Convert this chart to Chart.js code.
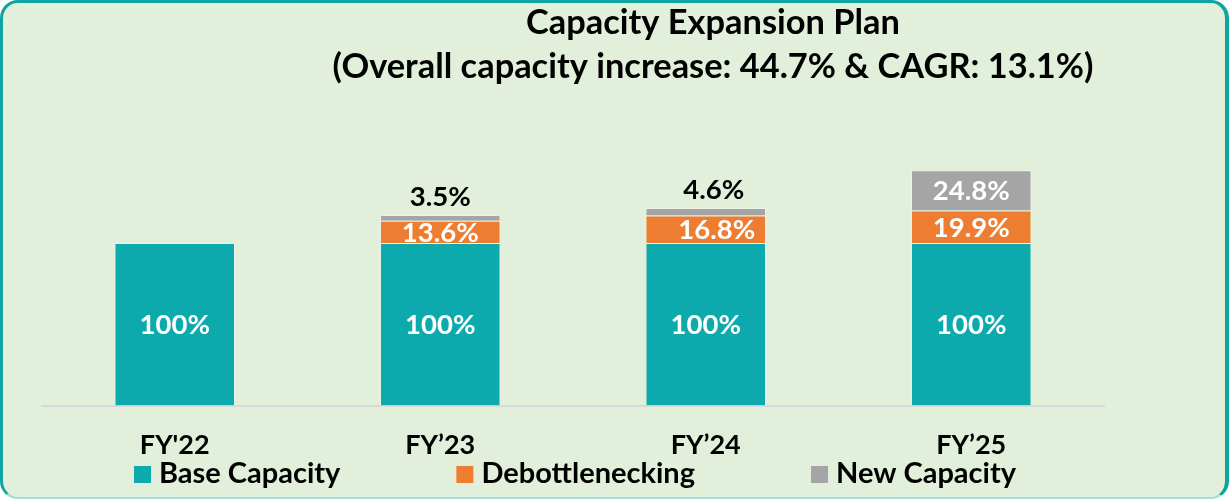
<!DOCTYPE html>
<html>
<head>
<meta charset="utf-8">
<script src="https://cdn.jsdelivr.net/npm/chart.js@4"></script>
<style>
  html, body { margin: 0; padding: 0; background: #ffffff; }
  #frame {
    position: absolute; left: 0; top: 0;
    width: 1229px; height: 499px; box-sizing: border-box;
    background: #E2EFDA;
    border-style: solid;
    border-color: #10A49E #10A49E #A3E0D2 #10A49E;
    border-width: 3px 4px 2px 3px;
    border-radius: 18px;
  }
  #chart { position: absolute; left: 0; top: 0; }
</style>
</head>
<body>
<div id="frame"></div>
<canvas id="chart" width="1229" height="499"></canvas>
<script>
// Fiscal years on the x axis
const categories = ["FY'22", "FY’23", "FY’24", "FY’25"];
// Capacity as a share of FY'22 base capacity (%)
const baseCapacity = [100, 100, 100, 100];
const debottlenecking = [null, 13.6, 16.8, 19.9];
const newCapacity = [null, 3.5, 4.6, 24.8];
const seriesNames = ["Base Capacity", "Debottlenecking", "New Capacity"];
const titleLines = ["Capacity Expansion Plan", "(Overall capacity increase: 44.7% & CAGR: 13.1%)"];

const FONT = "Lato, 'Open Sans', sans-serif";
const COLORS = ['#0DAAAD', '#ED7D31', '#A5A5A5'];

// Two-line heading, centred over the right-hand part of the panel
const headline = {
  id: 'headline',
  afterDraw(chart, args, opts) {
    const ctx = chart.ctx;
    ctx.save();
    ctx.font = `bold ${opts.size}px ${FONT}`;
    ctx.fillStyle = '#000000';
    ctx.textAlign = 'center';
    ctx.textBaseline = 'alphabetic';
    titleLines.forEach((line, i) => ctx.fillText(line, opts.x, i === 0 ? opts.firstBaseline : opts.secondBaseline));
    ctx.restore();
  }
};

// Small horizontal nudges for the labels on the FY'24 stack
const labelNudge = { '1-2': 11, '2-2': 8 };

// Percentage labels inside each segment (or above the stack when the segment is thin)
const valueLabels = {
  id: 'valueLabels',
  afterDatasetsDraw(chart, args, opts) {
    const ctx = chart.ctx;
    ctx.save();
    ctx.font = `bold ${opts.size}px ${FONT}`;
    ctx.textAlign = 'center';
    ctx.textBaseline = 'middle';
    chart.data.datasets.forEach((ds, di) => {
      const meta = chart.getDatasetMeta(di);
      meta.data.forEach((bar, i) => {
        const v = ds.data[i];
        if (v === null || v === undefined) return;
        const top = Math.min(bar.y, bar.base);
        const bottom = Math.max(bar.y, bar.base);
        const dx = labelNudge[di + '-' + i] || 0;
        let y;
        if (bottom - top < opts.minInside) {
          ctx.fillStyle = '#000000';
          y = top - opts.above;
        } else {
          ctx.fillStyle = '#FFFFFF';
          y = (top + bottom) / 2 + 1;
        }
        ctx.fillText(v + '%', bar.x + dx, y);
      });
    });
    ctx.restore();
  }
};

// Single-row legend with square swatches
const legendRow = {
  id: 'legendRow',
  afterDraw(chart, args, opts) {
    const ctx = chart.ctx;
    ctx.save();
    ctx.font = `bold ${opts.size}px ${FONT}`;
    ctx.textAlign = 'left';
    ctx.textBaseline = 'middle';
    const items = chart.data.datasets.map(ds => ({
      text: ds.label, color: ds.backgroundColor, w: ctx.measureText(ds.label).width
    }));
    const total = items.reduce((s, it) => s + opts.box + opts.boxGap + it.w, 0) + opts.itemGap * (items.length - 1);
    let x = opts.centerX - total / 2;
    items.forEach(it => {
      ctx.fillStyle = it.color;
      ctx.fillRect(x, opts.y - opts.box / 2, opts.box, opts.box);
      ctx.fillStyle = '#000000';
      ctx.fillText(it.text, x + opts.box + opts.boxGap, opts.y - 1);
      x += opts.box + opts.boxGap + it.w + opts.itemGap;
    });
    ctx.restore();
  }
};

const seriesData = [baseCapacity, debottlenecking, newCapacity];

new Chart(document.getElementById('chart'), {
  type: 'bar',
  data: {
    labels: categories,
    datasets: seriesData.map((values, k) => ({
      label: seriesNames[k],
      data: values,
      backgroundColor: COLORS[k],
      borderColor: 'rgba(255,255,255,0.35)',
      borderWidth: 1,
      categoryPercentage: 1,
      barPercentage: 0.454
    }))
  },
  options: {
    responsive: false,
    animation: false,
    devicePixelRatio: 1,
    layout: { padding: { left: 42, right: 125, top: 129, bottom: 15 } },
    scales: {
      x: {
        stacked: true,
        grid: { display: false, drawTicks: false },
        border: { display: true, color: '#D9D9D9', width: 2 },
        ticks: {
          color: '#000000',
          padding: 23,
          font: { family: FONT, size: 27, weight: 'bold', lineHeight: 1.2 }
        }
      },
      y: {
        stacked: true,
        display: false,
        min: 0,
        max: 170
      }
    },
    plugins: {
      legend: { display: false },
      title: { display: false },
      tooltip: { enabled: false },
      headline: { x: 713, firstBaseline: 34, secondBaseline: 78, size: 34.4 },
      valueLabels: { size: 27.5, minInside: 12, above: 17.5 },
      legendRow: { size: 29, box: 17, boxGap: 8, itemGap: 116, centerX: 575, y: 474.5 }
    }
  },
  plugins: [headline, valueLabels, legendRow]
});
</script>
</body>
</html>
